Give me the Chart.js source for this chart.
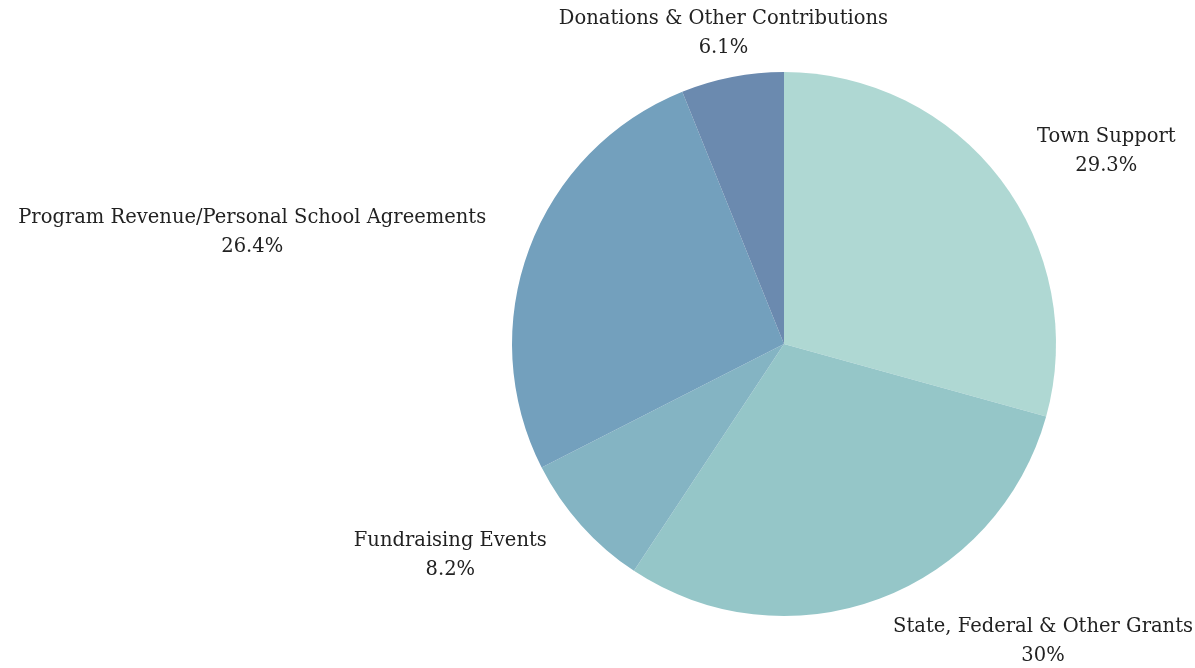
<!DOCTYPE html>
<html>
<head>
<meta charset="utf-8">
<script src="https://cdn.jsdelivr.net/npm/chart.js@4"></script>
<style>
  html, body { margin: 0; padding: 0; background: #fff; }
  #wrap { width: 1195px; height: 668px; }
</style>
</head>
<body>
<div id="wrap"><canvas id="myPie"></canvas></div>
<script>
  // Data
  var labels = ["Town Support", "State, Federal & Other Grants", "Fundraising Events",
                "Program Revenue/Personal School Agreements", "Donations & Other Contributions"];
  var values = [29.3, 30, 8.2, 26.4, 6.1];
  var valueText = ["29.3%", "30%", "8.2%", "26.4%", "6.1%"];
  var colors = ["#afd8d3", "#95c6c8", "#84b4c3", "#73a0bd", "#6b8aaf"];

  // label luar tanpa garis, dua baris rata tengah
  var outsideLabels = {
    id: 'outsideLabels',
    afterDatasetsDraw: function (chart) {
      var ctx = chart.ctx;
      var meta = chart.getDatasetMeta(0);
      ctx.save();
      ctx.font = '19.5px "DejaVu Serif", serif';
      ctx.fillStyle = '#222';
      ctx.textBaseline = 'middle';
      ctx.textAlign = 'center';
      meta.data.forEach(function (arc, i) {
        var mid = (arc.startAngle + arc.endAngle) / 2;
        var r = arc.outerRadius + 46;
        var x = arc.x + Math.cos(mid) * r;
        var y = arc.y + Math.sin(mid) * r;
        var c = Math.cos(mid);
        var w = Math.max(ctx.measureText(labels[i]).width, ctx.measureText(valueText[i]).width);
        var cx = x;
        if (c > 0.3) cx = x + w / 2;
        else if (c < -0.3) cx = x - w / 2;
        else y = Math.max(y, 33);
        // jangan keluar dari canvas
        cx = Math.min(cx, chart.width - 2 - w / 2);
        cx = Math.max(cx, 2 + w / 2);
        var lh = 29;
        ctx.fillText(labels[i], cx, y - lh / 2);
        ctx.fillText(valueText[i], cx, y + lh / 2);
      });
      ctx.restore();
    }
  };

  var ctx = document.getElementById('myPie').getContext('2d');
  var myPie = new Chart(ctx, {
    type: 'pie',
    data: {
      labels: labels,
      datasets: [{
        data: values,
        backgroundColor: colors,
        borderWidth: 0
      }]
    },
    options: {
      responsive: true,
      maintainAspectRatio: false,
      animation: false,
      layout: { padding: { top: 72, bottom: 52, left: 512, right: 139 } },
      plugins: {
        legend: { display: false },
        tooltip: { enabled: false }
      }
    },
    plugins: [outsideLabels]
  });
</script>
</body>
</html>
